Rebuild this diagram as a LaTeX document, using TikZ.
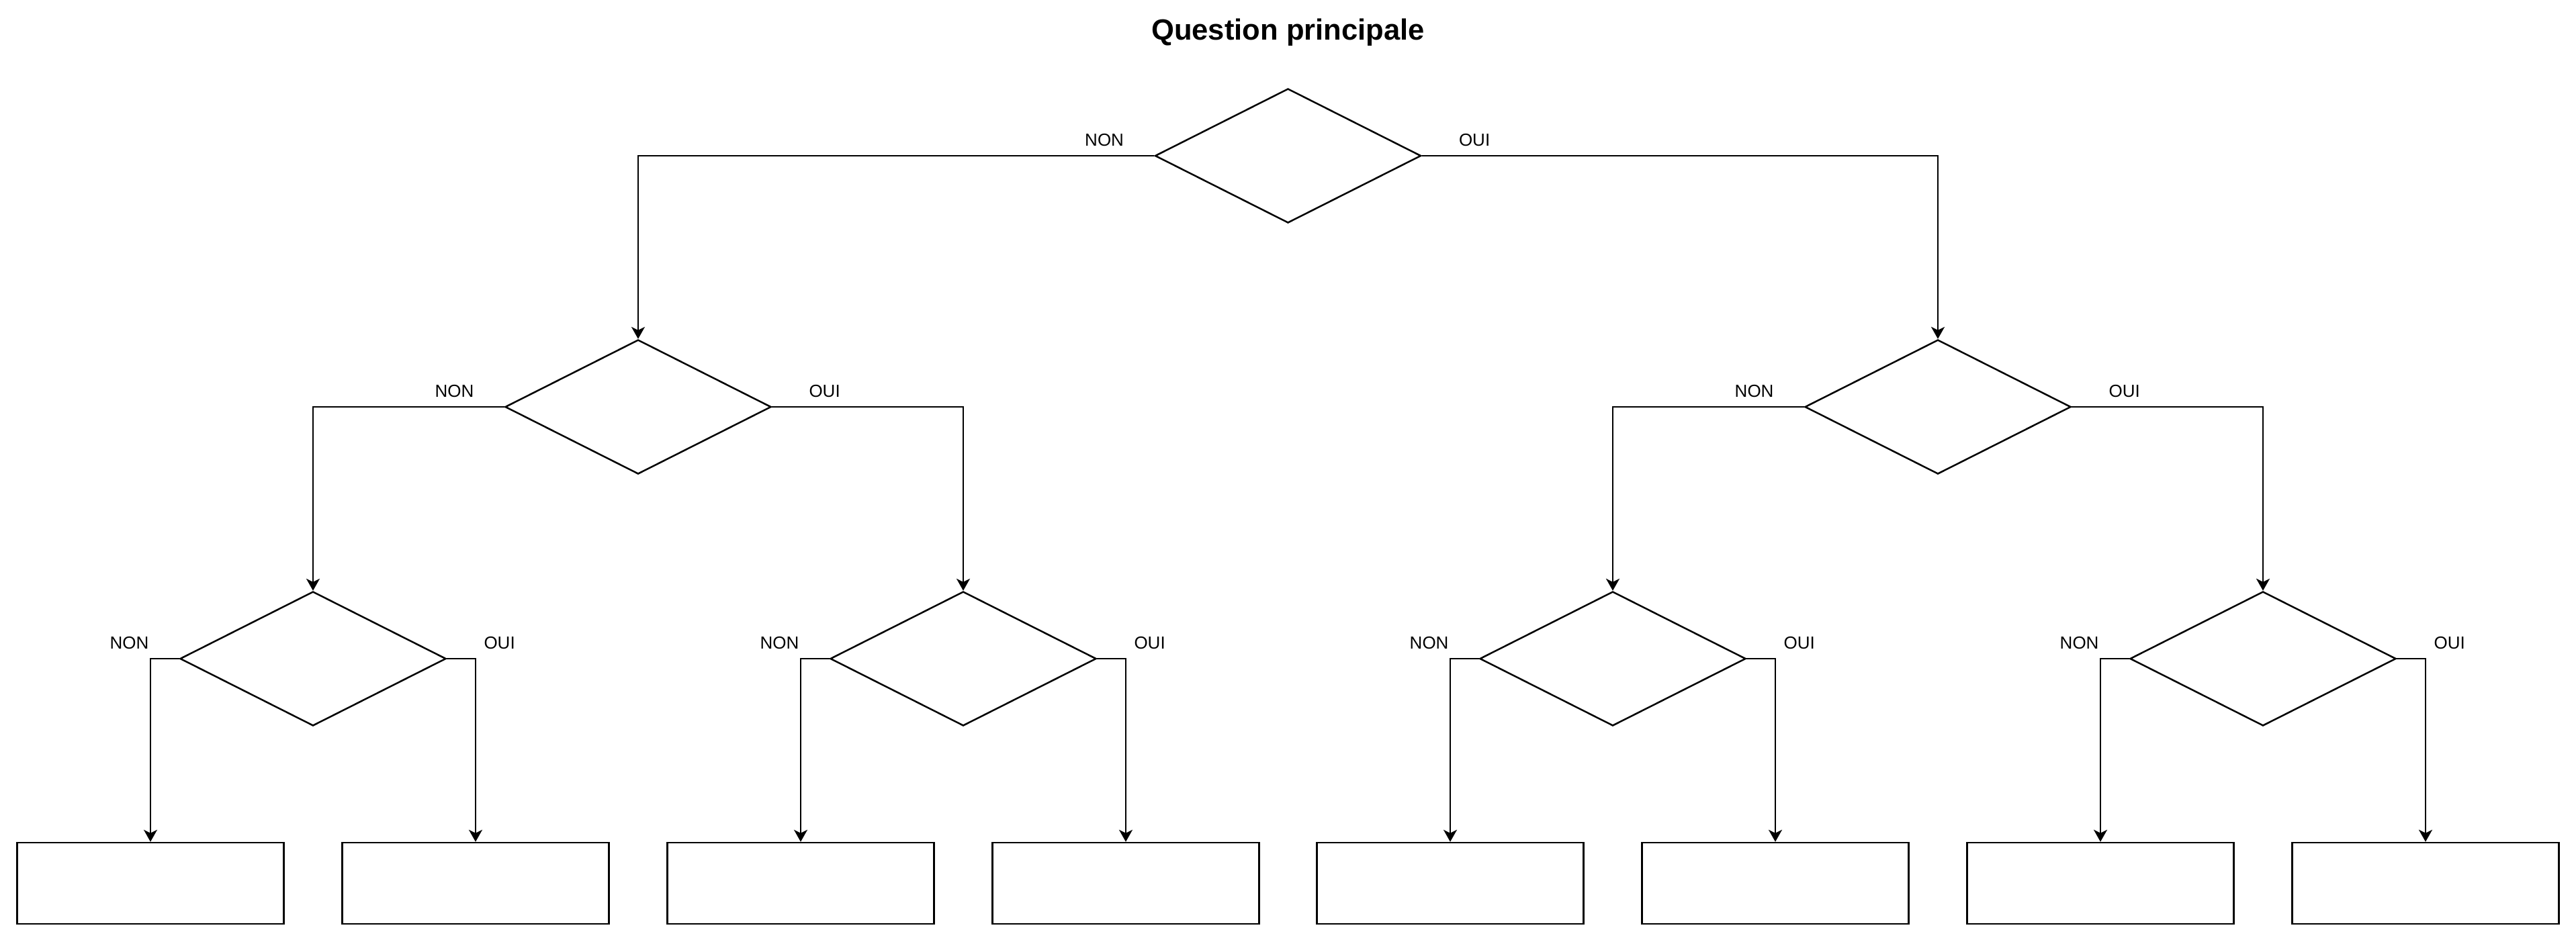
\documentclass[tikz,border=0pt]{standalone}
\usepackage{fontspec}
\setmainfont{Liberation Sans}
\usetikzlibrary{shapes.geometric}
\usetikzlibrary{arrows.meta}

\begin{document}
\begin{tikzpicture}[line width=0.71pt,
    question/.style={draw, diamond, minimum width=3.96cm, minimum height=2cm, inner sep=0pt},
    answer/.style={draw, rectangle, minimum width=3.97cm, minimum height=1.21cm, inner sep=0pt},
    choice/.style={font=\fontsize{7.4}{9}\selectfont, inner sep=0pt},
    link/.style={-{Stealth[length=5.1pt, width=5.7pt, inset=1.4pt]}}
  ]
  \useasboundingbox (0,0) rectangle (38.35,-14.02);

  \node (title) at (19.175,-0.59) [anchor=base, font=\bfseries\fontsize{12.4}{15}\selectfont] {Question principale};

  % questions
  \node (q0) at (19.175,-2.32) [question] {};
  \node (q1) at (9.50,-6.06)   [question] {};
  \node (q2) at (28.85,-6.06)  [question] {};
  \node (q3) at (4.66,-9.81)   [question] {};
  \node (q4) at (14.34,-9.81)  [question] {};
  \node (q5) at (24.01,-9.81)  [question] {};
  \node (q6) at (33.69,-9.81)  [question] {};

  % answers
  \node (box1) at (2.24,-13.155)  [answer] {};
  \node (box2) at (7.08,-13.155)  [answer] {};
  \node (box3) at (11.92,-13.155) [answer] {};
  \node (box4) at (16.76,-13.155) [answer] {};
  \node (box5) at (21.59,-13.155) [answer] {};
  \node (box6) at (26.43,-13.155) [answer] {};
  \node (box7) at (31.27,-13.155) [answer] {};
  \node (box8) at (36.11,-13.155) [answer] {};

  % labels
  \node (non0) at ([xshift=-0.44cm,yshift=0.15cm]q0.west) [choice, anchor=base east] {NON};
  \node (oui0) at ([xshift=0.54cm,yshift=0.15cm]q0.east)  [choice, anchor=base west] {OUI};
  \node (non1) at ([xshift=-0.44cm,yshift=0.15cm]q1.west) [choice, anchor=base east] {NON};
  \node (oui1) at ([xshift=0.54cm,yshift=0.15cm]q1.east)  [choice, anchor=base west] {OUI};
  \node (non2) at ([xshift=-0.44cm,yshift=0.15cm]q2.west) [choice, anchor=base east] {NON};
  \node (oui2) at ([xshift=0.54cm,yshift=0.15cm]q2.east)  [choice, anchor=base west] {OUI};
  \node (non3) at ([xshift=-0.44cm,yshift=0.15cm]q3.west) [choice, anchor=base east] {NON};
  \node (oui3) at ([xshift=0.54cm,yshift=0.15cm]q3.east)  [choice, anchor=base west] {OUI};
  \node (non4) at ([xshift=-0.44cm,yshift=0.15cm]q4.west) [choice, anchor=base east] {NON};
  \node (oui4) at ([xshift=0.54cm,yshift=0.15cm]q4.east)  [choice, anchor=base west] {OUI};
  \node (non5) at ([xshift=-0.44cm,yshift=0.15cm]q5.west) [choice, anchor=base east] {NON};
  \node (oui5) at ([xshift=0.54cm,yshift=0.15cm]q5.east)  [choice, anchor=base west] {OUI};
  \node (non6) at ([xshift=-0.44cm,yshift=0.15cm]q6.west) [choice, anchor=base east] {NON};
  \node (oui6) at ([xshift=0.54cm,yshift=0.15cm]q6.east)  [choice, anchor=base west] {OUI};

  \draw[link] (q0.west) -| (q1.north);
  \draw[link] (q0.east) -| (q2.north);
  \draw[link] (q1.west) -| (q3.north);
  \draw[link] (q1.east) -| (q4.north);
  \draw[link] (q2.west) -| (q5.north);
  \draw[link] (q2.east) -| (q6.north);
  \draw[link] (q3.west) -| (box1.north);
  \draw[link] (q3.east) -| (box2.north);
  \draw[link] (q4.west) -| (box3.north);
  \draw[link] (q4.east) -| (box4.north);
  \draw[link] (q5.west) -| (box5.north);
  \draw[link] (q5.east) -| (box6.north);
  \draw[link] (q6.west) -| (box7.north);
  \draw[link] (q6.east) -| (box8.north);
\end{tikzpicture}
\end{document}
